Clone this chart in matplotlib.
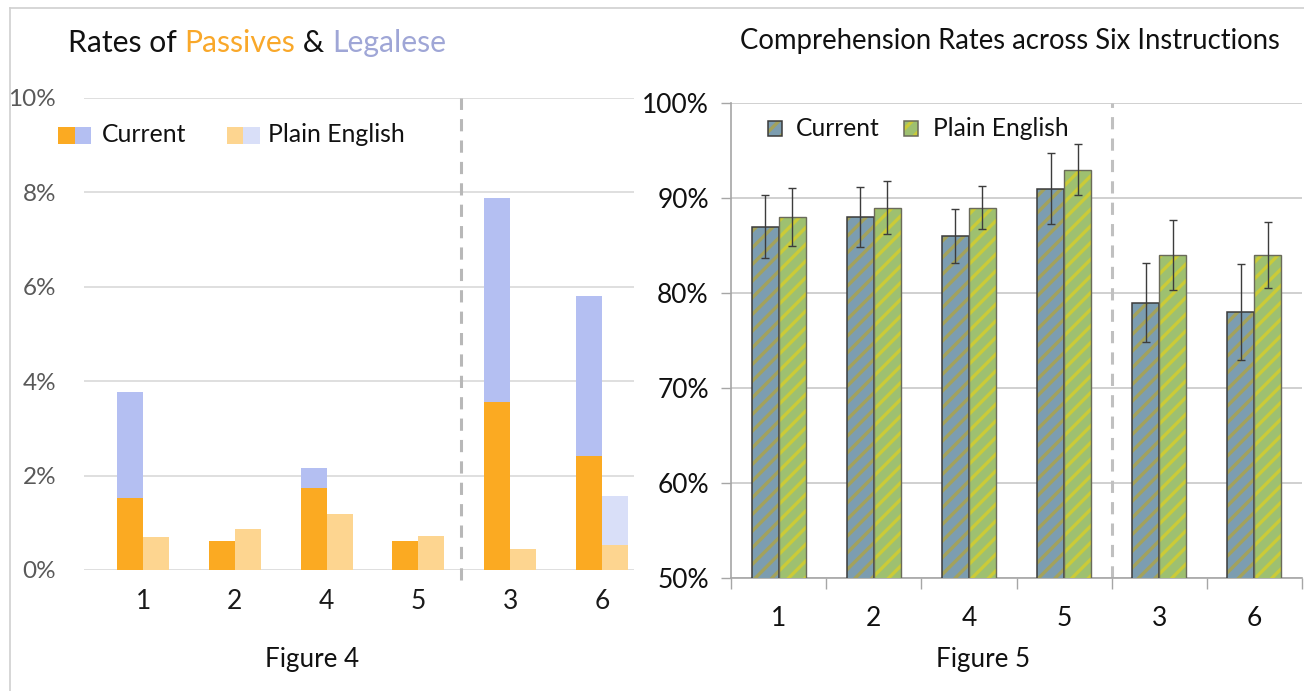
import matplotlib
matplotlib.use("Agg")
import matplotlib.pyplot as plt
from matplotlib.patches import Rectangle
from matplotlib.lines import Line2D
import numpy as np

plt.rcParams['font.family'] = ['Lato', 'DejaVu Sans']

# ---------------- data ----------------
instructions = ["1", "2", "4", "5", "3", "6"]

# Figure 4: rates (%) of passives and legalese
passive_current = [1.52, 0.61, 1.74, 0.61, 3.56, 2.42]
legalese_current = [2.25, 0.00, 0.42, 0.00, 4.33, 3.39]
passive_plain = [0.70, 0.87, 1.18, 0.72, 0.45, 0.53]
legalese_plain = [0.00, 0.00, 0.00, 0.00, 0.00, 1.03]
rate_ticks = [0, 2, 4, 6, 8, 10]

# Figure 5: comprehension rates (%) with error margins
comp_current = [87, 88, 86, 91, 79, 78]
comp_plain = [88, 89, 89, 93, 84, 84]
err_current = [3.3, 3.2, 2.8, 3.7, 4.2, 5.1]
err_plain = [3.1, 2.8, 2.25, 2.7, 3.7, 3.45]
comp_ticks = [50, 60, 70, 80, 90, 100]

# ---------------- styles ----------------
W, H = 1304, 691
ORANGE = "#FBAA22"
LAVENDER = "#B4BFF2"
ORANGE_LT = "#FDD590"
LAVENDER_LT = "#D9DFF8"
TITLE_ORANGE = "#F9A82A"
TITLE_LAV = "#9FA6D6"
CUR_FACE, CUR_HATCH = "#7C9DB0", "#A3A25C"
PLN_FACE, PLN_HATCH = "#9EC070", "#CBCB38"
GRID = "#D9D9D9"
HATCH = "//"

plt.rcParams['hatch.linewidth'] = 2.4

fig = plt.figure(figsize=(W / 100, H / 100), dpi=100)
fig.patch.set_facecolor("white")


def fx(px):
    return px / W


def fy(py):
    return 1 - py / H


renderer = fig.canvas.get_renderer()


def text_width(t):
    return t.get_window_extent(renderer=renderer).width


def fit_width(t, target):
    w = text_width(t)
    t.set_fontsize(t.get_fontsize() * target / w)
    return t.get_fontsize()


# outer page frame
fig.add_artist(Line2D([fx(10), fx(10)], [fy(8), 0], color="#D0D0D0", lw=1.2))
fig.add_artist(Line2D([fx(10), 1], [fy(8), fy(8)], color="#D0D0D0", lw=1.2))

# =============== Figure 4 ===============
ax1 = fig.add_axes([fx(84), fy(570), fx(634) - fx(84), fy(98) - fy(570)])
x = np.arange(len(instructions))
bw1 = 0.283
ax1.bar(x - bw1 / 2, passive_current, bw1, color=ORANGE, zorder=3)
ax1.bar(x - bw1 / 2, legalese_current, bw1, bottom=passive_current, color=LAVENDER, zorder=3)
ax1.bar(x + bw1 / 2, passive_plain, bw1, color=ORANGE_LT, zorder=3)
ax1.bar(x + bw1 / 2, legalese_plain, bw1, bottom=passive_plain, color=LAVENDER_LT, zorder=3)
ax1.set_xlim(-0.643, 5.349)
ax1.set_ylim(0, 10)
ax1.set_yticks(rate_ticks)
ax1.set_yticklabels([f"{v}%" for v in rate_ticks], color="#595959", fontsize=17.5)
ax1.set_xticks(x)
ax1.set_xticklabels(instructions, fontsize=19, color="#1a1a1a")
ax1.tick_params(axis="y", length=0, pad=20)
ax1.tick_params(axis="x", length=0, pad=14)
ax1.grid(axis="y", color=GRID, lw=1.2, zorder=0)
ax1.set_axisbelow(True)
for s in ax1.spines.values():
    s.set_visible(False)
ax1.plot([3.46, 3.46], [-0.22, 10], ls=(0, (4, 3)), color="#B8B8B8", lw=2.2,
         clip_on=False, zorder=2)

# legend of Figure 4
for (x0, x1, c) in [(58, 75, ORANGE), (75, 91, LAVENDER), (227, 243, ORANGE_LT), (243, 260, LAVENDER_LT)]:
    fig.add_artist(Rectangle((fx(x0), fy(144)), fx(x1) - fx(x0), fy(127) - fy(144),
                             transform=fig.transFigure, color=c, lw=0))
t = fig.text(fx(268), fy(135), "Plain English", fontsize=18, va="center", ha="left", color="#111111")
fs_leg1 = fit_width(t, 136)
fig.text(fx(102), fy(135), "Current", fontsize=fs_leg1, va="center", ha="left", color="#111111")

# multi-coloured title of Figure 4
parts = [("Rates of ", "#111111"), ("Passives", TITLE_ORANGE), (" & ", "#111111"), ("Legalese", TITLE_LAV)]
full = "".join(p for p, _ in parts)
probe = fig.text(0, 0, full, fontsize=21)
fs_title = fit_width(probe, 447 - 68)
probe.remove()
prefix = ""
bar_probe = fig.text(0, 0, "|", fontsize=fs_title)
bar_w = text_width(bar_probe)
for s, c in parts:
    if prefix:
        p = fig.text(0, 0, prefix + "|", fontsize=fs_title)
        off = text_width(p) - bar_w
        p.remove()
    else:
        off = 0
    fig.text(fx(68 + off), fy(52), s, fontsize=fs_title, color=c, va="baseline", ha="left")
    prefix += s
bar_probe.remove()

# =============== Figure 5 ===============
ax2 = fig.add_axes([fx(731), fy(578), fx(1302) - fx(731), fy(103) - fy(578)])
bw2 = 0.284
xc = x - bw2 / 2
xp = x + bw2 / 2
ax2.bar(xc, comp_current, bw2, color=CUR_FACE, edgecolor=CUR_HATCH, hatch=HATCH, lw=0, zorder=3)
ax2.bar(xc, comp_current, bw2, fill=False, edgecolor="#3a3a3a", lw=1.1, zorder=4)
ax2.bar(xp, comp_plain, bw2, color=PLN_FACE, edgecolor=PLN_HATCH, hatch=HATCH, lw=0, zorder=3)
ax2.bar(xp, comp_plain, bw2, fill=False, edgecolor="#6a6a5a", lw=1.0, zorder=4)
ax2.errorbar(xc, comp_current, yerr=err_current, fmt="none", ecolor="#3c3c3c",
             elinewidth=1.0, capsize=3, capthick=1.0, zorder=5)
ax2.errorbar(xp, comp_plain, yerr=err_plain, fmt="none", ecolor="#3c3c3c",
             elinewidth=1.0, capsize=3, capthick=1.0, zorder=5)
ax2.set_xlim(-0.5, 5.5)
ax2.set_ylim(50, 100)
ax2.set_yticks(comp_ticks)
ax2.set_yticklabels([f"{v}%" for v in comp_ticks], fontsize=19, color="#111111")
ax2.tick_params(axis="y", length=7, color="#A6A6A6", width=1, pad=9)
ax2.set_xticks(np.arange(-0.5, 6.0, 1.0))
ax2.set_xticklabels([])
ax2.tick_params(axis="x", which="major", length=8, color="#A6A6A6", width=1)
ax2.set_xticks(x, minor=True)
ax2.set_xticklabels(instructions, minor=True, fontsize=19, color="#111111")
ax2.tick_params(axis="x", which="minor", length=0, pad=20)
ax2.grid(axis="y", color="#C8C8C8", lw=1.2, zorder=0)
ax2.set_axisbelow(True)
for side in ["top", "right"]:
    ax2.spines[side].set_visible(False)
for side in ["left", "bottom"]:
    ax2.spines[side].set_color("#A6A6A6")
    ax2.spines[side].set_linewidth(1.2)
ax2.plot([3.5, 3.5], [50, 100], ls=(0, (4, 3)), color="#C0C0C0", lw=2.2, zorder=2)

# legend of Figure 5
for (x0, x1, face, hc, ec) in [(768, 782, CUR_FACE, CUR_HATCH, "#3a3a3a"),
                                (904, 918, PLN_FACE, PLN_HATCH, "#6a6a5a")]:
    fig.add_artist(Rectangle((fx(x0), fy(136)), fx(x1) - fx(x0), fy(121) - fy(136),
                             transform=fig.transFigure, facecolor=face, edgecolor=hc,
                             hatch=HATCH, lw=0))
    fig.add_artist(Rectangle((fx(x0), fy(136)), fx(x1) - fx(x0), fy(121) - fy(136),
                             transform=fig.transFigure, fill=False, edgecolor=ec, lw=1.1))
t = fig.text(fx(933), fy(129), "Plain English", fontsize=18, va="center", ha="left", color="#111111")
fs_leg2 = fit_width(t, 1068 - 933)
fig.text(fx(796), fy(129), "Current", fontsize=fs_leg2, va="center", ha="left", color="#111111")

t = fig.text(fx(740), fy(49), "Comprehension Rates across Six Instructions", fontsize=20,
             va="baseline", ha="left", color="#111111")
fit_width(t, 1282 - 740)

# captions
t = fig.text(fx(312), fy(659), "Figure 4", fontsize=15, va="center", ha="center", color="#111111")
fit_width(t, 94)
t = fig.text(fx(983), fy(659), "Figure 5", fontsize=15, va="center", ha="center", color="#111111")
fit_width(t, 94)

fig.savefig("out.png", dpi=100, facecolor="white")
